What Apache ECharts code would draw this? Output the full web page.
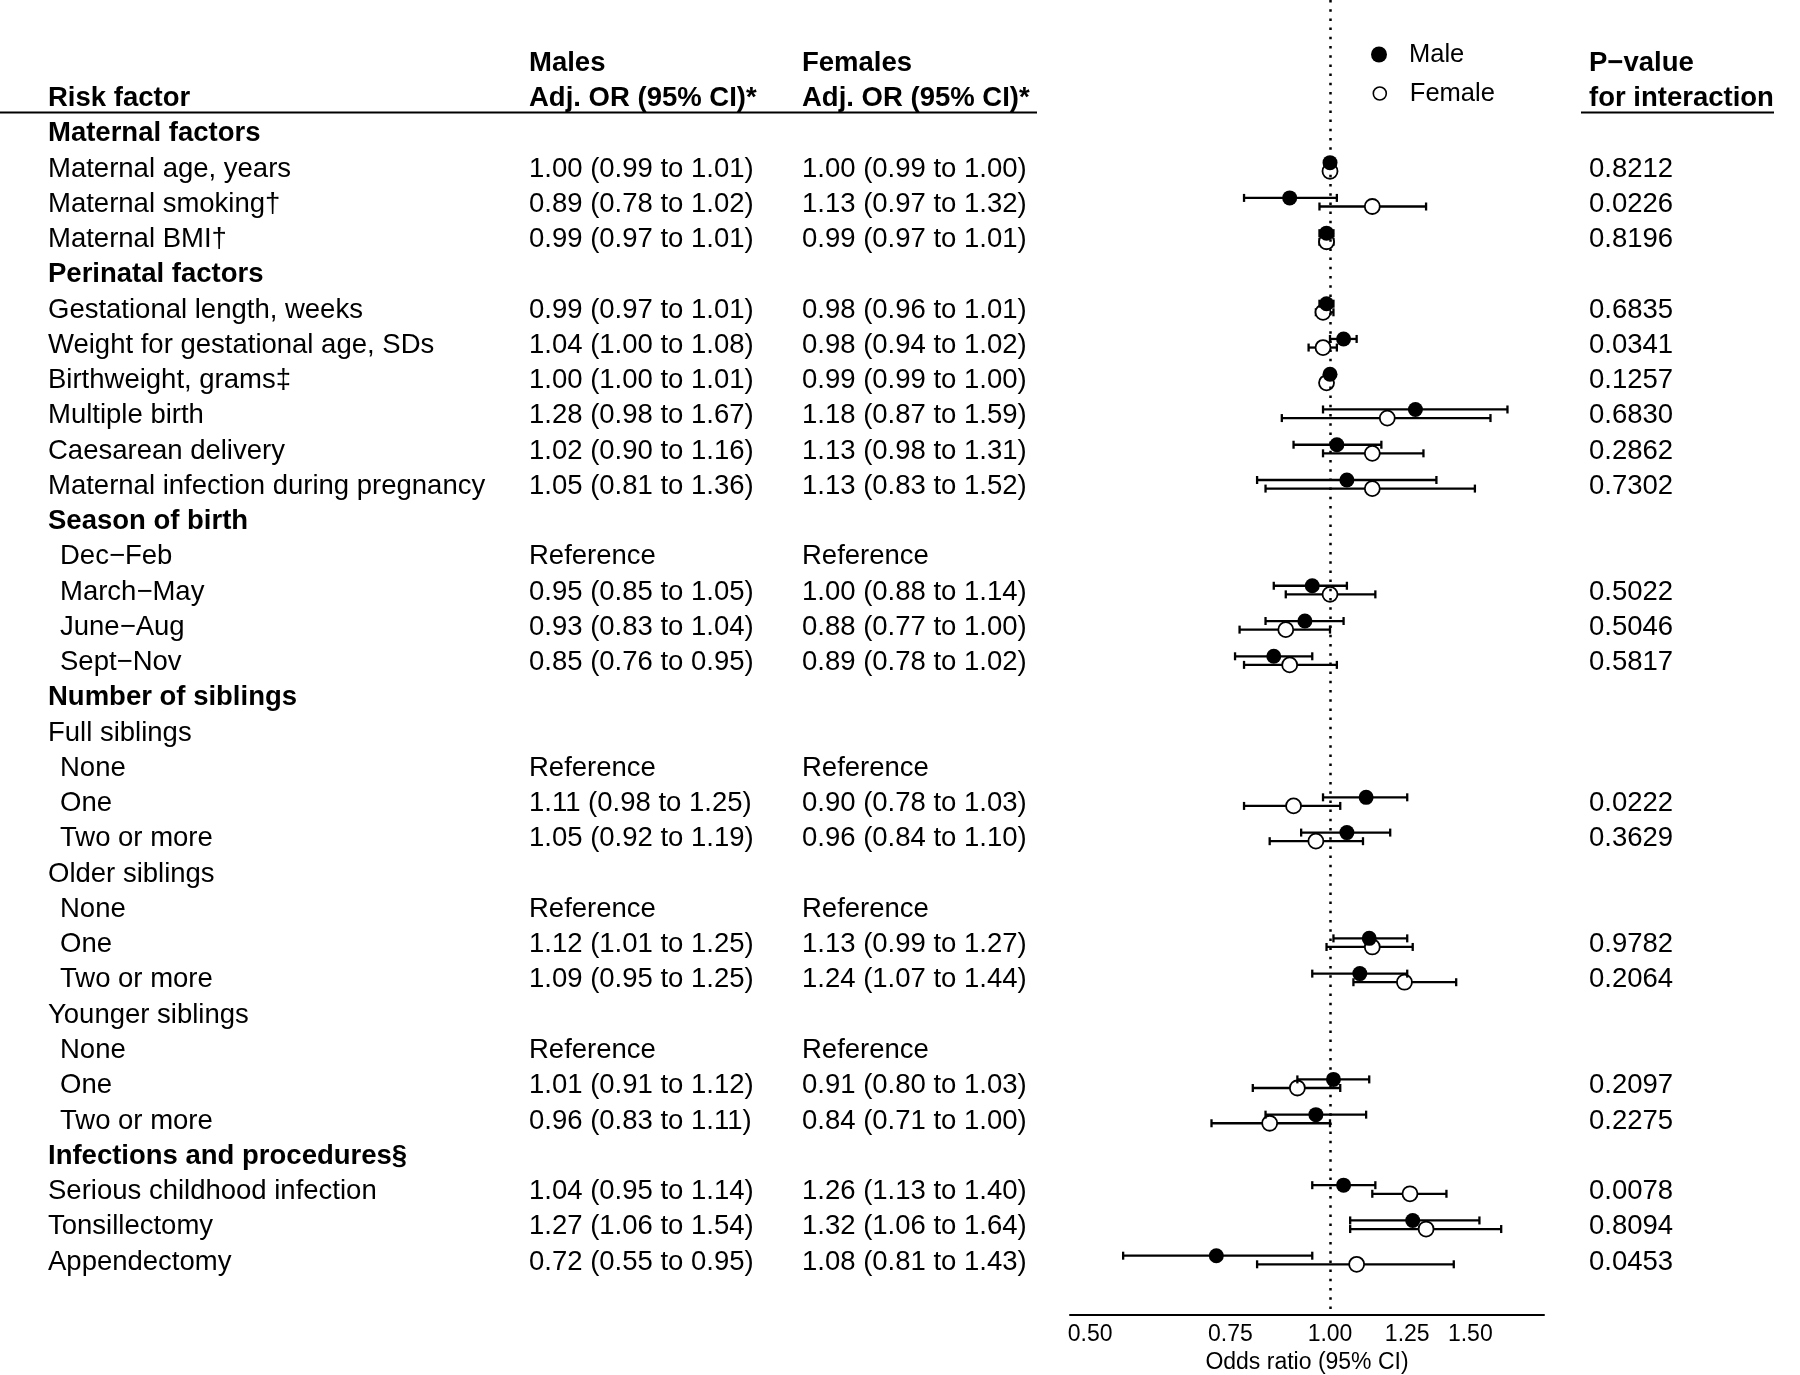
<!DOCTYPE html>
<html><head><meta charset="utf-8">
<script src="https://cdn.jsdelivr.net/npm/echarts@6/dist/echarts.min.js"></script>
<style>html,body{margin:0;padding:0;background:#fff}#c{width:1800px;height:1375px}</style>
</head><body><div id="c"></div>
<script>
// ---------------- data ----------------
const riskFactors = [
  'Maternal factors','Maternal age, years','Maternal smoking†','Maternal BMI†',
  'Perinatal factors','Gestational length, weeks','Weight for gestational age, SDs','Birthweight, grams‡','Multiple birth','Caesarean delivery','Maternal infection during pregnancy',
  'Season of birth','Dec−Feb','March−May','June−Aug','Sept−Nov',
  'Number of siblings','Full siblings','None','One','Two or more',
  'Older siblings','None','One','Two or more',
  'Younger siblings','None','One','Two or more',
  'Infections and procedures§','Serious childhood infection','Tonsillectomy','Appendectomy'
];
// h = heading, i = item, g = group label, r = reference sub item, s = sub item
const rowKinds = ['h','i','i','i','h','i','i','i','i','i','i','h','r','s','s','s','h','g','r','s','s','g','r','s','s','g','r','s','s','h','i','i','i'];

const maleOR   = [null,1.00,0.89,0.99, null,0.99,1.04,1.00,1.28,1.02,1.05, null,null,0.95,0.93,0.85, null,null,null,1.11,1.05, null,null,1.12,1.09, null,null,1.01,0.96, null,1.04,1.27,0.72];
const maleLo   = [null,0.99,0.78,0.97, null,0.97,1.00,1.00,0.98,0.90,0.81, null,null,0.85,0.83,0.76, null,null,null,0.98,0.92, null,null,1.01,0.95, null,null,0.91,0.83, null,0.95,1.06,0.55];
const maleHi   = [null,1.01,1.02,1.01, null,1.01,1.08,1.01,1.67,1.16,1.36, null,null,1.05,1.04,0.95, null,null,null,1.25,1.19, null,null,1.25,1.25, null,null,1.12,1.11, null,1.14,1.54,0.95];
const femaleOR = [null,1.00,1.13,0.99, null,0.98,0.98,0.99,1.18,1.13,1.13, null,null,1.00,0.88,0.89, null,null,null,0.90,0.96, null,null,1.13,1.24, null,null,0.91,0.84, null,1.26,1.32,1.08];
const femaleLo = [null,0.99,0.97,0.97, null,0.96,0.94,0.99,0.87,0.98,0.83, null,null,0.88,0.77,0.78, null,null,null,0.78,0.84, null,null,0.99,1.07, null,null,0.80,0.71, null,1.13,1.06,0.81];
const femaleHi = [null,1.00,1.32,1.01, null,1.01,1.02,1.00,1.59,1.31,1.52, null,null,1.14,1.00,1.02, null,null,null,1.03,1.10, null,null,1.27,1.44, null,null,1.03,1.00, null,1.40,1.64,1.43];
const pValues  = [null,'0.8212','0.0226','0.8196', null,'0.6835','0.0341','0.1257','0.6830','0.2862','0.7302', null,null,'0.5022','0.5046','0.5817', null,null,null,'0.0222','0.3629', null,null,'0.9782','0.2064', null,null,'0.2097','0.2275', null,'0.0078','0.8094','0.0453'];

const oddsTicks = [0.50, 0.75, 1.00, 1.25, 1.50];
const headerRisk = ['Risk factor'];
const headerMales = ['Males', 'Adj. OR (95% CI)*'];
const headerFemales = ['Females', 'Adj. OR (95% CI)*'];
const headerP = ['P−value', 'for interaction'];
const xTitle = 'Odds ratio (95% CI)';
const seriesNames = ['Male', 'Female'];

// ---------------- layout ----------------
const FONT = "'Liberation Sans', Arial, Helvetica, sans-serif";
const FS = 27.5;
const GRID_LEFT = 1070, GRID_WIDTH = 474, GRID_TOP = 0, GRID_HEIGHT = 1315;
const X_MIN = Math.log(0.4717), X_MAX = Math.log(1.856);
const Y_MIN = -3.735, Y_MAX = 33.56;
const DY = 4.3, CAP = 4;

const rows = riskFactors.map((_, i) => i);
const dataRows = rows.filter(i => rowKinds[i] === 'i' || rowKinds[i] === 's' || rowKinds[i] === 'r');

function ciText(o, l, h, i) {
  if (rowKinds[i] === 'r') return 'Reference';
  return o.toFixed(2) + ' (' + l.toFixed(2) + ' to ' + h.toFixed(2) + ')';
}
const maleText = rows.map(i => dataRows.includes(i) ? ciText(maleOR[i], maleLo[i], maleHi[i], i) : '');
const femaleText = rows.map(i => dataRows.includes(i) ? ciText(femaleOR[i], femaleLo[i], femaleHi[i], i) : '');

const rich = {
  b: {fontWeight: 'bold', fontSize: FS, fontFamily: FONT, color: '#000', padding: [4, 0, 0, 0]},
  n: {fontSize: FS, fontFamily: FONT, color: '#000', padding: [4, 0, 0, 0]},
  s: {fontSize: FS, fontFamily: FONT, color: '#000', padding: [4, 0, 0, 12]}
};

function yAxisFor(pos, offset, values, fmt) {
  return {
    type: 'value', min: Y_MIN, max: Y_MAX, inverse: true, gridIndex: 0,
    position: pos, offset: offset,
    axisLine: {show: false, onZero: false}, axisTick: {show: false}, splitLine: {show: false},
    axisLabel: {
      customValues: values, formatter: v => fmt(Math.round(v)),
      align: 'left', margin: 0, color: '#000', fontSize: FS, fontFamily: FONT, rich: rich
    }
  };
}

const riskAxis = yAxisFor('left', GRID_LEFT - 48, [-1].concat(rows), i => {
  if (i === -1) return '{b|' + headerRisk[0] + '}';
  const k = rowKinds[i];
  if (k === 'h') return '{b|' + riskFactors[i] + '}';
  if (k === 's' || k === 'r') return '{s|' + riskFactors[i] + '}';
  return '{n|' + riskFactors[i] + '}';
});
const maleAxis = yAxisFor('left', GRID_LEFT - 529, [-2, -1].concat(dataRows), i => {
  if (i < 0) return '{b|' + headerMales[i + 2] + '}';
  return '{n|' + maleText[i] + '}';
});
const femaleAxis = yAxisFor('left', GRID_LEFT - 802, [-2, -1].concat(dataRows), i => {
  if (i < 0) return '{b|' + headerFemales[i + 2] + '}';
  return '{n|' + femaleText[i] + '}';
});
const pRows = rows.filter(i => pValues[i] !== null);
const pAxis = yAxisFor('right', 1589 - (GRID_LEFT + GRID_WIDTH), [-2, -1].concat(pRows), i => {
  if (i < 0) return '{b|' + headerP[i + 2] + '}';
  return '{n|' + pValues[i] + '}';
});

function barData(or, lo, hi) {
  return rows.filter(i => or[i] !== null).map(i => [i, Math.log(lo[i]), Math.log(hi[i])]);
}
function pointData(or) {
  return rows.filter(i => or[i] !== null).map(i => [Math.log(or[i]), i]);
}
function errorBars(dy) {
  return function (params, api) {
    const row = api.value(0);
    const a = api.coord([api.value(1), row]);
    const b = api.coord([api.value(2), row]);
    const y = a[1] + dy;
    const st = {stroke: '#000', lineWidth: 2.3};
    return {type: 'group', children: [
      {type: 'line', shape: {x1: a[0], y1: y, x2: b[0], y2: y}, style: st},
      {type: 'line', shape: {x1: a[0], y1: y - CAP, x2: a[0], y2: y + CAP}, style: st},
      {type: 'line', shape: {x1: b[0], y1: y - CAP, x2: b[0], y2: y + CAP}, style: st}
    ]};
  };
}

const chart = echarts.init(document.getElementById('c'), null, {renderer: 'canvas'});
chart.setOption({
  backgroundColor: '#fff',
  animation: false,
  textStyle: {fontFamily: FONT, color: '#000'},
  grid: {left: GRID_LEFT, width: GRID_WIDTH, top: GRID_TOP, height: GRID_HEIGHT, containLabel: false, outerBoundsMode: 'none'},
  xAxis: {
    type: 'value', min: X_MIN, max: X_MAX,
    axisLine: {show: true, onZero: false, lineStyle: {color: '#000', width: 2}},
    axisTick: {show: false}, splitLine: {show: false},
    axisLabel: {
      customValues: oddsTicks.map(v => Math.log(v)),
      formatter: v => Math.exp(v).toFixed(2),
      color: '#000', fontSize: 23, fontFamily: FONT, margin: 8
    },
    name: xTitle, nameLocation: 'middle', nameGap: 36,
    nameTextStyle: {color: '#000', fontSize: 23, fontFamily: FONT}
  },
  yAxis: [riskAxis, maleAxis, femaleAxis, pAxis],
  legend: [
    {data: [seriesNames[0]], left: 1371, top: 41.5, padding: 0, itemWidth: 16, itemHeight: 16,
     itemGap: 0, selectedMode: false,
     textStyle: {fontSize: 25.5, fontFamily: FONT, color: '#000', padding: [0, 0, 0, 17]}},
    {data: [seriesNames[1]], left: 1372.5, top: 80.5, padding: 0, itemWidth: 13, itemHeight: 13,
     itemGap: 0, selectedMode: false, itemStyle: {borderWidth: 1.6, borderColor: '#000', color: '#fff'},
     textStyle: {fontSize: 25.5, fontFamily: FONT, color: '#000', padding: [0, 0, 0, 18.5]}}
  ],
  series: [
    {type: 'custom', name: 'Female CI', renderItem: errorBars(DY), data: barData(femaleOR, femaleLo, femaleHi),
     encode: {x: [1, 2], y: 0}, z: 2, silent: true},
    {type: 'scatter', name: seriesNames[1], data: pointData(femaleOR), symbol: 'circle', symbolSize: 15,
     symbolOffset: [0, DY], itemStyle: {color: '#fff', borderColor: '#000', borderWidth: 1.8, opacity: 1}, z: 3, silent: true},
    {type: 'custom', name: 'Male CI', renderItem: errorBars(-DY), data: barData(maleOR, maleLo, maleHi),
     encode: {x: [1, 2], y: 0}, z: 4, silent: true},
    {type: 'scatter', name: seriesNames[0], data: pointData(maleOR), symbol: 'circle', symbolSize: 15,
     symbolOffset: [0, -DY], itemStyle: {color: '#000', opacity: 1}, z: 5, silent: true},
    {type: 'scatter', name: 'ref', data: [], z: 10, silent: true,
     markLine: {silent: true, symbol: ['none', 'none'], label: {show: false}, animation: false,
       lineStyle: {color: '#000', width: 2.5, type: [2.5, 6.7]}, data: [{xAxis: 0}]}}
  ],
  graphic: [
    {type: 'line', shape: {x1: 0, y1: 112.5, x2: 1037, y2: 112.5}, style: {stroke: '#000', lineWidth: 2}},
    {type: 'line', shape: {x1: 1581, y1: 112.5, x2: 1774, y2: 112.5}, style: {stroke: '#000', lineWidth: 2}}
  ]
});
</script></body></html>
